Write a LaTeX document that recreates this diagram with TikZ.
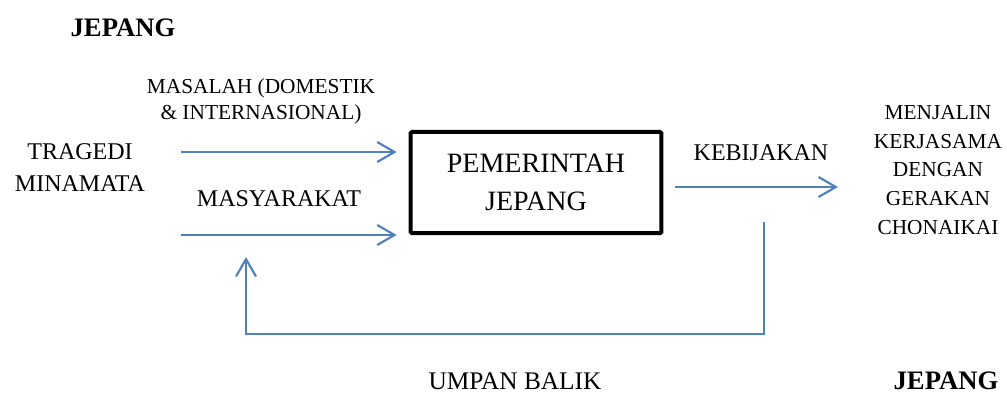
\documentclass[tikz,border=0pt]{standalone}
\usepackage{fontspec}
\setmainfont{Liberation Serif}
\usetikzlibrary{arrows.meta}
\definecolor{arrblue}{HTML}{4F81BD}
\begin{document}
\begin{tikzpicture}[x=0.75pt,y=-0.75pt,
  lbl/.style={inner sep=0pt, align=center},
  flow/.style={draw=arrblue, line width=1.6pt, -{Straight Barb[length=13pt,width=15pt,line width=1.6pt]}},
  govbox/.style={draw=black, line width=3pt, rounded corners=1pt, minimum width=188pt, minimum height=76pt, align=center, inner sep=0pt}]
\useasboundingbox (0,0) rectangle (1007,394);

\node[lbl, font=\bfseries\fontsize{20pt}{24pt}\selectfont] (jp1) at (123,28) {JEPANG};
\node[lbl, font=\bfseries\fontsize{20pt}{24pt}\selectfont] (jp2) at (946,381) {JEPANG};

\node[lbl, font=\fontsize{16pt}{19.5pt}\selectfont] (masalah) at (261,101) {MASALAH (DOMESTIK\\\& INTERNASIONAL)};
\node[lbl, font=\fontsize{18pt}{24pt}\selectfont] (tragedi) at (80,168) {TRAGEDI\\MINAMATA};
\node[lbl, font=\fontsize{18pt}{24pt}\selectfont] (masy) at (279,199) {MASYARAKAT};

\node[govbox, font=\fontsize{21pt}{28pt}\selectfont] (gov) at (536,182.5) {PEMERINTAH\\JEPANG};

\node[lbl, font=\fontsize{18pt}{24pt}\selectfont] (kebij) at (761,153) {KEBIJAKAN};
\node[lbl, font=\fontsize{16pt}{21.4pt}\selectfont] (hasil) at (938,170) {MENJALIN\\KERJASAMA\\DENGAN\\GERAKAN\\CHONAIKAI};
\node[lbl, font=\fontsize{19pt}{24pt}\selectfont] (umpan) at (515,381) {UMPAN BALIK};

\coordinate (s1) at (181,152);
\coordinate (s2) at (181,235);
\coordinate (k1) at (675,187);
\coordinate (k2) at (838,187);
\coordinate (fbtop) at (764,222);
\coordinate (fbbr) at (764,334);
\coordinate (fbbl) at (246,334);
\coordinate (fbend) at (246,257);

\draw[flow, shorten >=9pt] (s1) -- (s1 -| gov.west);
\draw[flow, shorten >=9pt] (s2) -- (s2 -| gov.west);
\draw[flow] (k1) -- (k2);
\draw[flow] (fbtop) -- (fbbr) -- (fbbl) -- (fbend);
\end{tikzpicture}
\end{document}
